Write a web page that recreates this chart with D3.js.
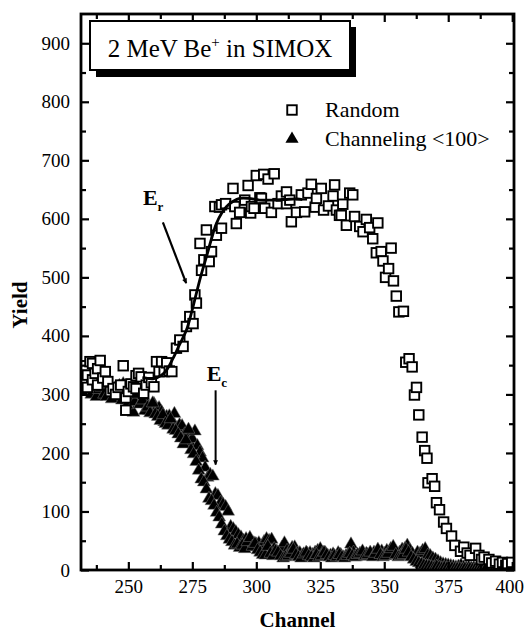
<!DOCTYPE html>
<html>
<head>
<meta charset="utf-8">
<script src="https://cdn.jsdelivr.net/npm/d3@7"></script>
<style>
  html, body { margin: 0; padding: 0; background: #fff; }
  svg { display: block; }
  svg text { font-family: "Liberation Serif", "Times New Roman", serif !important; fill: #000; }
</style>
</head>
<body>
<svg id="chart" width="526" height="633"></svg>
<script>
// ---------------- DATA ----------------
const xMajorTicks = [250, 275, 300, 325, 350, 375, 400];
const xMinorTicks = [237.5, 262.5, 287.5, 312.5, 337.5, 362.5, 387.5];
const yMajorTicks = [0, 100, 200, 300, 400, 500, 600, 700, 800, 900];
const yMinorTicks = [50, 150, 250, 350, 450, 550, 650, 750, 850];

// Random spectrum: [channel, yield]
const randomData = [
  [232,345],[232,318],[233,349],[234,333],[234,312],[235,356],[236,353],[236,325],
  [237,336],[238,316],[238,344],[239,358],[240,328],[241,339],[242,322],[243,305],
  [244,310],[245,300],[246,312],[247,316],[248,349],[249,294],[249,273],[250,305],
  [251,318],[252,313],[253,310],[253,332],[254,336],[255,330],[256,302],[257,316],
  [258,329],[259,320],[260,313],[261,356],[262,339],[263,356],[264,339],[265,354],
  [266,340],[267,339],[268.8,379],[270.1,393],[271.4,382],[272.7,416],[274,433],
  [275.3,421],[276,470],[276.6,456],[278,558],[278.6,512],[279.5,530],[280.5,581],
  [281.6,527],[282.5,544],[283.8,621],[284.4,572],[285.6,620],[286.4,584],[286.4,624],
  [288,626],[290.9,652],[291.6,621],[292.2,592],[293.5,611],[295.5,632],[296.8,657],
  [297.8,610],[298.1,621],[299.1,618],[300,674],[301.4,636],[302,635],[302.9,676],
  [303.3,618],[304.6,668],[305.9,611],[307,677],[308.5,626],[309.8,639],[311.8,646],
  [311.8,626],[313.1,632],[313.7,595],[315.7,611],[317.6,641],[318.9,612],[320.2,644],
  [321.5,659],[323,620],[323.5,635],[325.4,652],[326.3,615],[328.2,622],[330,639],
  [330.6,658],[331.3,615],[332.5,606],[333.2,606],[333.8,625],[335.2,589],[336.5,644],
  [337.7,641],[338.4,604],[340.4,587],[341.7,578],[343,599],[344.3,585],[345.5,566],
  [346.9,542],[347.5,593],[348.8,544],[349.5,528],[350.5,500],[351.7,515],[352.7,550],
  [353.6,494],[354.7,468],[355.7,441],[357.5,442],[358.4,355],[359.7,361],[360.9,347],
  [361.8,299],[362.6,312],[363.5,265],[364.8,227],[365.8,204],[366.7,191],[367.1,149],
  [368.7,156],[369.7,143],[370.4,115],[371.6,103],[373.2,82],[374.3,71],[376.3,58],
  [377.6,42],[379.8,32],[381.1,39],[382.4,29],[383.5,25],[385.7,37],[387,25],[388,18],
  [389,22],[390.9,18],[392,12],[393.5,15],[395,10],[396.2,13],[397.5,8],[398.2,11],
  [399.8,13]
];

// Channeling <100> spectrum: channels and yields (two interleaved readings per channel)
const chanChannels = d3.range(232, 401);
const chanYields = [
  325,332,318,329,310,301,322,315,305,318,322,308,300,312,294,305,318,301,296,310,
  269,294,305,287,296,285,272,280,284,276,277,270,253,262,263,255,267,243,248,246,
  232,230,218,224,237,212,201,191,175,158,163,160,130,127,115,112,108,100,74,70,
  65,60,56,50,53,45,39,46,44,46,40,48,53,50,52,36,32,29,38,46,
  33,32,38,39,28,29,25,22,28,29,26,30,33,36,30,29,24,25,27,22,
  29,26,22,24,28,44,30,22,25,24,25,28,23,26,30,28,30,32,28,33,
  30,32,29,25,30,35,36,42,34,28,22,30,28,33,36,25,24,20,18,15,
  12,10,9,8,7,6,5,6,8,5,4,5,3,4,3,2,3,2,2,3,
  2,1,2,1,2,1,1,1,1
];
const chanChannels2 = d3.range(232.5, 400, 1);
const chanYields2 = [
  310,305,335,300,316,296,308,312,300,296,318,292,305,300,315,290,312,282,300,297,
  287,300,283,290,272,278,268,285,266,262,255,265,250,247,258,240,238,232,225,215,
  222,240,205,198,185,170,155,150,138,122,118,110,98,90,78,66,58,52,48,42,
  44,38,42,36,48,55,40,45,34,30,26,25,40,28,24,32,30,24,20,22,
  24,28,35,26,22,20,27,30,24,22,20,26,22,24,30,26,22,20,24,22,
  26,22,20,24,28,24,22,26,28,32,24,26,30,22,28,35,26,22,24,28,
  36,40,26,22,24,26,35,30,22,18,14,12,10,8,7,6,5,4,6,4,
  3,4,3,2,3,2,2,2,1,2,1,2,1,1,1,1,1,1
];

// Fit curve through the random rising edge
const fitCurve = [
  [255.5,329],[258,327],[260,327],[263,333],[265,342],[267.5,362],[270,385],
  [272.7,410],[274.7,440],[276.6,473],[278.5,505],[280.5,535],[282.5,566],
  [284.4,592],[286.5,610],[288.4,621],[291,630],[293.5,635],[297,635],
  [301.3,632],[306,632],[311,633],[316,634],[318,633]
];

const titleText = "2 MeV Be";
const legendLabels = ["Random", "Channeling <100>"];

// ---------------- LAYOUT ----------------
const FONT = "'Liberation Serif', 'Times New Roman', serif";
const svg = d3.select("#chart");
const L = 81, R = 514, T = 14, B = 570;
const x = d3.scaleLinear().domain([231.5, 400.7]).range([L, R]);
const y = d3.scaleLinear().domain([0, 950]).range([B, T]);

const defs = svg.append("defs");
defs.append("marker")
  .attr("id", "arr").attr("viewBox", "0 0 10 10")
  .attr("refX", 9).attr("refY", 5)
  .attr("markerWidth", 7).attr("markerHeight", 5)
  .attr("markerUnits", "userSpaceOnUse")
  .attr("orient", "auto")
  .append("path").attr("d", "M0,0 L10,5 L0,10 Z").attr("fill", "#000");

defs.append("clipPath").attr("id", "plotclip")
  .append("rect").attr("x", L).attr("y", T).attr("width", R - L).attr("height", B - T);

const g = svg.append("g").attr("clip-path", "url(#plotclip)");

// triangles (channeling)
const triPath = d3.symbol().type(d3.symbolTriangle).size(72)();
const triData = chanChannels.map((c, i) => [c, chanYields[i]])
  .concat(chanChannels2.map((c, i) => [c, chanYields2[i]]));
g.selectAll("path.tri")
  .data(triData)
  .join("path").attr("class", "tri")
  .attr("d", triPath)
  .attr("transform", d => `translate(${x(d[0])},${y(d[1])})`)
  .attr("fill", "#000")
  .attr("stroke", "#777")
  .attr("stroke-width", 0.5);

// squares (random)
const sq = 9.5;
g.selectAll("rect.sq")
  .data(randomData)
  .join("rect").attr("class", "sq")
  .attr("x", d => x(d[0]) - sq / 2)
  .attr("y", d => y(d[1]) - sq / 2)
  .attr("width", sq).attr("height", sq)
  .attr("fill", "#fff")
  .attr("stroke", "#000")
  .attr("stroke-width", 1.9);

// fit curve
g.append("path")
  .datum(fitCurve)
  .attr("d", d3.line().x(d => x(d[0])).y(d => y(d[1])).curve(d3.curveCatmullRom))
  .attr("fill", "none").attr("stroke", "#000").attr("stroke-width", 2.8);

// ---------------- AXES ----------------
const fs = 19;
function styleAxis(sel) {
  sel.attr("font-family", FONT);
  sel.select(".domain").remove();
  sel.selectAll(".tick line").attr("stroke", "#000").attr("stroke-width", 2.2);
  sel.selectAll(".tick text").attr("font-family", FONT)
     .attr("font-size", fs).attr("fill", "#000");
}
const xAxisG = svg.append("g").attr("transform", `translate(0,${B})`)
  .call(d3.axisBottom(x).tickValues(xMajorTicks).tickSize(-8).tickPadding(10).tickFormat(d3.format("d")))
  .call(styleAxis);
// keep the last label inside the picture
xAxisG.selectAll(".tick text").filter(d => d === 400).attr("dx", -3);
svg.append("g").attr("transform", `translate(0,${B})`)
  .call(d3.axisBottom(x).tickValues(xMinorTicks).tickSize(-5).tickFormat(""))
  .call(styleAxis);
svg.append("g").attr("transform", `translate(0,${T})`)
  .call(d3.axisTop(x).tickValues(xMajorTicks).tickSize(-8).tickFormat(""))
  .call(styleAxis);
svg.append("g").attr("transform", `translate(0,${T})`)
  .call(d3.axisTop(x).tickValues(xMinorTicks).tickSize(-5).tickFormat(""))
  .call(styleAxis);
svg.append("g").attr("transform", `translate(${L},0)`)
  .call(d3.axisLeft(y).tickValues(yMajorTicks).tickSize(-8).tickPadding(11).tickFormat(d3.format("d")))
  .call(styleAxis);
svg.append("g").attr("transform", `translate(${L},0)`)
  .call(d3.axisLeft(y).tickValues(yMinorTicks).tickSize(-5).tickFormat(""))
  .call(styleAxis);
svg.append("g").attr("transform", `translate(${R},0)`)
  .call(d3.axisRight(y).tickValues(yMajorTicks).tickSize(-8).tickFormat(""))
  .call(styleAxis);
svg.append("g").attr("transform", `translate(${R},0)`)
  .call(d3.axisRight(y).tickValues(yMinorTicks).tickSize(-5).tickFormat(""))
  .call(styleAxis);

svg.append("rect").attr("x", L).attr("y", T).attr("width", R - L).attr("height", B - T)
  .attr("fill", "none").attr("stroke", "#000").attr("stroke-width", 2.8);

// axis titles
svg.append("text").attr("x", (L + R) / 2).attr("y", 627).attr("text-anchor", "middle")
  .attr("font-family", FONT).attr("font-size", 21).attr("font-weight", "bold").text("Channel");
svg.append("text").attr("transform", "translate(27,305) rotate(-90)").attr("text-anchor", "middle")
  .attr("font-family", FONT).attr("font-size", 21).attr("font-weight", "bold").text("Yield");

// ---------------- TITLE BOX ----------------
svg.append("rect").attr("x", 96).attr("y", 27).attr("width", 260).attr("height", 50).attr("fill", "#000");
svg.append("rect").attr("x", 90).attr("y", 21).attr("width", 260).attr("height", 49)
  .attr("fill", "#fff").attr("stroke", "#000").attr("stroke-width", 2);
const tt = svg.append("text").attr("x", 220).attr("y", 57).attr("text-anchor", "middle")
  .attr("font-family", FONT).attr("font-size", 25);
tt.append("tspan").text(titleText);
tt.append("tspan").attr("dy", -10).attr("font-size", 15).text("+");
tt.append("tspan").attr("dy", 10).text(" in SIMOX");

// ---------------- LEGEND ----------------
svg.append("rect").attr("x", 292 - sq / 2).attr("y", 110 - sq / 2).attr("width", sq).attr("height", sq)
  .attr("fill", "#fff").attr("stroke", "#000").attr("stroke-width", 1.9);
svg.append("path").attr("d", d3.symbol().type(d3.symbolTriangle).size(75)())
  .attr("transform", "translate(292,139)").attr("fill", "#000");
svg.append("text").attr("x", 325).attr("y", 117).attr("font-family", FONT).attr("font-size", 22).text(legendLabels[0]);
svg.append("text").attr("x", 325).attr("y", 146).attr("font-family", FONT).attr("font-size", 22).text(legendLabels[1]);

// ---------------- ANNOTATIONS ----------------
const er = svg.append("text").attr("x", x(255.7)).attr("y", y(623))
  .attr("font-family", FONT).attr("font-size", 22).attr("font-weight", "bold");
er.append("tspan").text("E");
er.append("tspan").attr("dy", 6).attr("font-size", 13).text("r");
svg.append("line")
  .attr("x1", x(263.5)).attr("y1", y(594)).attr("x2", x(272.6)).attr("y2", y(490))
  .attr("stroke", "#000").attr("stroke-width", 2.2).attr("marker-end", "url(#arr)");
const ec = svg.append("text").attr("x", x(280.6)).attr("y", y(323))
  .attr("font-family", FONT).attr("font-size", 22).attr("font-weight", "bold");
ec.append("tspan").text("E");
ec.append("tspan").attr("dy", 6).attr("font-size", 13).text("c");
svg.append("line")
  .attr("x1", x(284.1)).attr("y1", y(307)).attr("x2", x(284.1)).attr("y2", y(180))
  .attr("stroke", "#000").attr("stroke-width", 2).attr("marker-end", "url(#arr)");
</script>
</body>
</html>
